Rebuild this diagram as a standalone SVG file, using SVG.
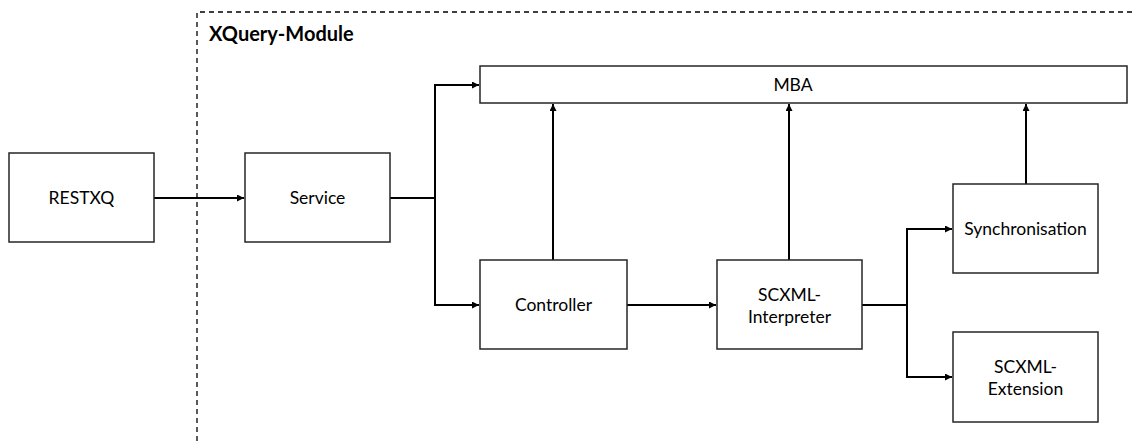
<svg xmlns="http://www.w3.org/2000/svg" width="1135" height="441" viewBox="0 0 1135 441">
<defs>
<marker id="arr" viewBox="0 0 10 10" refX="10" refY="5" markerWidth="9" markerHeight="7" markerUnits="userSpaceOnUse" orient="auto">
<path d="M0,0 L10,5 L0,10 Z" fill="#000"/>
</marker>
</defs>
<style>
.box{fill:#fff;stroke:#262626;stroke-width:1.5}
.lbl{font-family:Lato,"Open Sans","Liberation Sans",sans-serif;font-size:17.5px;fill:#000;text-anchor:middle}
.con{fill:none;stroke:#000;stroke-width:2}
</style>
<rect width="1135" height="441" fill="#fff"/>
<g id="module">
<path d="M197,441 L197,12 L1135,12" fill="none" stroke="#000" stroke-width="1.3" stroke-dasharray="5,4"/>
<text x="209" y="41" font-family="Lato,'Open Sans','Liberation Sans',sans-serif" font-size="20" font-weight="bold">XQuery-Module</text>
</g>
<g id="connectors">
<path class="con" d="M154,198 L244,198" marker-end="url(#arr)"/>
<path class="con" d="M390,198 L435,198"/>
<path class="con" d="M435,305 L435,85 L479,85" marker-end="url(#arr)"/>
<path class="con" d="M435,198 L435,305 L479,305" marker-end="url(#arr)"/>
<path class="con" d="M553,260 L553,104" marker-end="url(#arr)"/>
<path class="con" d="M627,305 L716,305" marker-end="url(#arr)"/>
<path class="con" d="M789,260 L789,104" marker-end="url(#arr)"/>
<path class="con" d="M1026,184 L1026,104" marker-end="url(#arr)"/>
<path class="con" d="M862,305 L907,305"/>
<path class="con" d="M907,305 L907,229 L952,229" marker-end="url(#arr)"/>
<path class="con" d="M907,305 L907,377 L952,377" marker-end="url(#arr)"/>
</g>
<g id="restxq">
<rect class="box" x="9" y="153" width="145" height="89"/>
<text class="lbl" x="81.5" y="204">RESTXQ</text>
</g>
<g id="service">
<rect class="box" x="245" y="153" width="145" height="89"/>
<text class="lbl" x="317.5" y="204">Service</text>
</g>
<g id="mba">
<rect class="box" x="480" y="66" width="647" height="37"/>
<text class="lbl" x="793" y="91">MBA</text>
</g>
<g id="controller">
<rect class="box" x="480" y="260" width="147" height="89"/>
<text class="lbl" x="553.5" y="311">Controller</text>
</g>
<g id="interpreter">
<rect class="box" x="717" y="260" width="145" height="89"/>
<text class="lbl" x="789.5" y="301">SCXML-</text>
<text class="lbl" x="789.5" y="323">Interpreter</text>
</g>
<g id="synchronisation">
<rect class="box" x="953" y="184" width="145" height="89"/>
<text class="lbl" x="1025.5" y="235">Synchronisation</text>
</g>
<g id="extension">
<rect class="box" x="953" y="332" width="145" height="90"/>
<text class="lbl" x="1025.5" y="373">SCXML-</text>
<text class="lbl" x="1025.5" y="395">Extension</text>
</g>
</svg>
